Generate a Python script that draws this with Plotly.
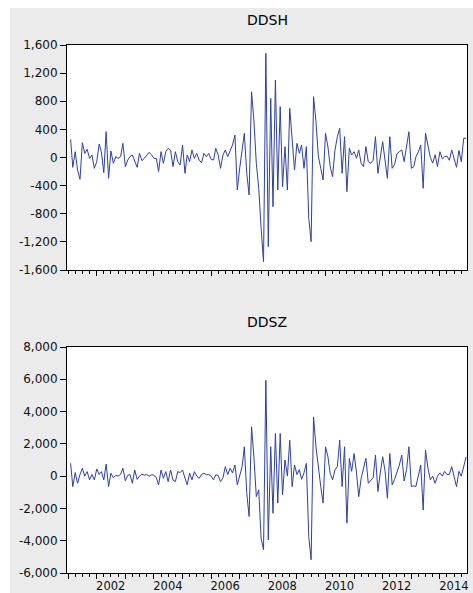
import pandas as pd
import plotly.graph_objects as go

# ---------------- data (monthly, 2001M02 .. 2014M12) ----------------
dates = pd.date_range("2001-02-01", periods=167, freq="MS")

ddsh = [
    258, -140, 83, -178, -310, 211, 59, 116, -12, 35, -154, -59,
    192, 83, -216, 367, -296, 92, -83, 12, -12, 12, 201, -130,
    -36, 12, 35, -59, -140, 59, -45, -12, 35, 73, 40, -12,
    -12, -200, 83, -83, 83, 130, 106, -130, 83, -59, -106, 178,
    -225, 36, -59, 106, -12, 59, -36, -73, 59, 12, 59, -27,
    -36, 130, 36, -154, 36, 106, 12, 106, 178, 320, -462, -150,
    106, 344, -225, -533, 936, 533, -83, -438, -1000, -1481, 1481, -1268,
    841, -700, 1102, -462, 723, -415, 154, -462, 700, 249, -178, 201,
    59, 178, -154, 154, -865, -1197, 865, 510, 20, -154, -320, 344,
    150, -120, -273, 100, 296, 415, -225, 296, -486, 130, 36, 83,
    -12, 107, -83, -130, 154, -59, -83, -40, 296, -225, 30, 225,
    -50, -296, 296, -154, -100, 50, 83, 107, -59, 154, 367, -154,
    -130, 10, 80, 178, -438, 344, 160, 0, -80, 40, -130, 83,
    -20, 10, 20, -40, 107, -10, -140, 100, -59, 273, 273,
]

ddsz = [
    795, -650, 220, -440, 100, 490, 0, 280, -230, 100, -230, 440,
    100, 280, -230, 750, -650, 180, -100, 50, 0, 100, 490, -280,
    50, 100, -440, 380, -200, 0, 120, 60, 100, 0, 80, 60,
    -100, -540, 380, -130, 280, -340, 380, -240, -340, 280, 220, 380,
    -130, -540, 180, -230, 280, 0, -130, 100, 180, 80, 100, 0,
    -230, 80, 40, -340, -100, 590, 100, 490, 200, 690, -540, 100,
    590, 1820, -1060, -2500, 3060, 1200, -1270, -850, -3840, -4560, 5940, -3940,
    1820, -2300, 2640, -1670, 2640, -1170, 1000, 0, 2230, -650, 690, 100,
    400, -200, 200, 790, -3740, -5180, 3670, 1820, 400, -650, -1670, 1820,
    1200, 180, -230, 380, 600, 2230, -650, 1820, -2910, 1100, 300, 1400,
    200, -1270, -130, 400, 1100, -440, -300, -100, 1300, -950, 200, 1200,
    300, -1370, 1400, -540, -200, 200, 690, 1300, -300, 400, 1820, -650,
    -600, -640, 100, 690, -2100, 1620, 500, -230, 0, -440, 0, 200,
    0, 300, 100, 100, 590, 0, -650, 300, 0, 590, 1200,
]

titles = ["DDSH", "DDSZ"]

top_ticks = [-1600, -1200, -800, -400, 0, 400, 800, 1200, 1600]
top_text = ["-1,600", "-1,200", "-800", "-400", "0", "400", "800", "1,200", "1,600"]
bot_ticks = [-6000, -4000, -2000, 0, 2000, 4000, 6000, 8000]
bot_text = ["-6,000", "-4,000", "-2,000", "0", "2,000", "4,000", "6,000", "8,000"]

years = list(range(2001, 2015))
year_ticks = [f"{y}-01-01" for y in years]
year_text = [str(y) if y % 2 == 0 else "" for y in years]

# ---------------- figure ----------------
W, H = 473, 593
ML, MR, MT, MB = 67, 6, 45, 20
PH = H - MT - MB  # 528

LINE = "#2d41a3"
GRAY = "#ebebeb"
FONT = "DejaVu Sans"

fig = go.Figure()
fig.add_trace(go.Scatter(x=dates, y=ddsh, mode="lines", xaxis="x", yaxis="y",
                         line=dict(color=LINE, width=1), showlegend=False))
fig.add_trace(go.Scatter(x=dates, y=ddsz, mode="lines", xaxis="x2", yaxis="y2",
                         line=dict(color=LINE, width=1), showlegend=False))

xrange = ["2000-12-17", "2014-12-13"]

def xaxis(show_labels, anchor):
    return dict(
        type="date", range=xrange, anchor=anchor, automargin=False,
        tickmode="array", tickvals=year_ticks, ticktext=year_text,
        showticklabels=show_labels, ticklabelshift=14, ticklabelstandoff=-3,
        ticks="outside", ticklen=5, tickwidth=1, tickcolor="#000",
        minor=dict(tickmode="linear", tick0="2001-01-01", dtick="M3",
                   ticks="outside", ticklen=3, tickwidth=1, tickcolor="#000",
                   showgrid=False),
        showline=True, linecolor="#000", linewidth=1, mirror=True,
        showgrid=False, zeroline=False,
        tickfont=dict(family=FONT, size=11.5, color="#111"),
    )

def yaxis(domain, rng, tv, tt, anchor):
    return dict(
        domain=domain, range=rng, anchor=anchor, automargin=False,
        tickmode="array", tickvals=tv, ticktext=tt,
        ticks="outside", ticklen=6, tickwidth=1, tickcolor="#000",
        showline=True, linecolor="#000", linewidth=1, mirror=True,
        showgrid=False, zeroline=False,
        tickfont=dict(family=FONT, size=12, color="#111"),
    )

top_dom = [(H - MB - 270) / PH, 1.0]
bot_dom = [0.0, (H - MB - 347) / PH]

def py(pix):
    return (H - MB - pix) / PH

def px(pix):
    return (pix - ML) / (W - ML - MR)

fig.update_layout(
    width=W, height=H, autosize=False,
    margin=dict(l=ML, r=MR, t=MT, b=MB, autoexpand=False),
    paper_bgcolor="white", plot_bgcolor="white",
    xaxis=xaxis(False, "y"),
    xaxis2=xaxis(True, "y2"),
    yaxis=yaxis(top_dom, [-1600, 1600], top_ticks, top_text, "x"),
    yaxis2=yaxis(bot_dom, [-6000, 8000], bot_ticks, bot_text, "x2"),
    shapes=[
        dict(type="rect", xref="paper", yref="paper", layer="below",
             x0=px(10), x1=px(W + 5), y0=py(H + 5), y1=py(8),
             fillcolor=GRAY, line=dict(width=0)),
        dict(type="rect", xref="x domain", yref="y domain", layer="below",
             x0=0, x1=1, y0=0, y1=1, fillcolor="white", line=dict(width=0)),
        dict(type="rect", xref="x2 domain", yref="y2 domain", layer="below",
             x0=0, x1=1, y0=0, y1=1, fillcolor="white", line=dict(width=0)),
    ],
    annotations=[
        dict(text=titles[0], xref="paper", yref="paper", x=0.5, y=py(20),
             xanchor="center", yanchor="middle", showarrow=False,
             font=dict(family=FONT, size=14, color="#000")),
        dict(text=titles[1], xref="paper", yref="paper", x=0.5, y=py(322),
             xanchor="center", yanchor="middle", showarrow=False,
             font=dict(family=FONT, size=14, color="#000")),
    ],
)

fig.write_html("out.html")
